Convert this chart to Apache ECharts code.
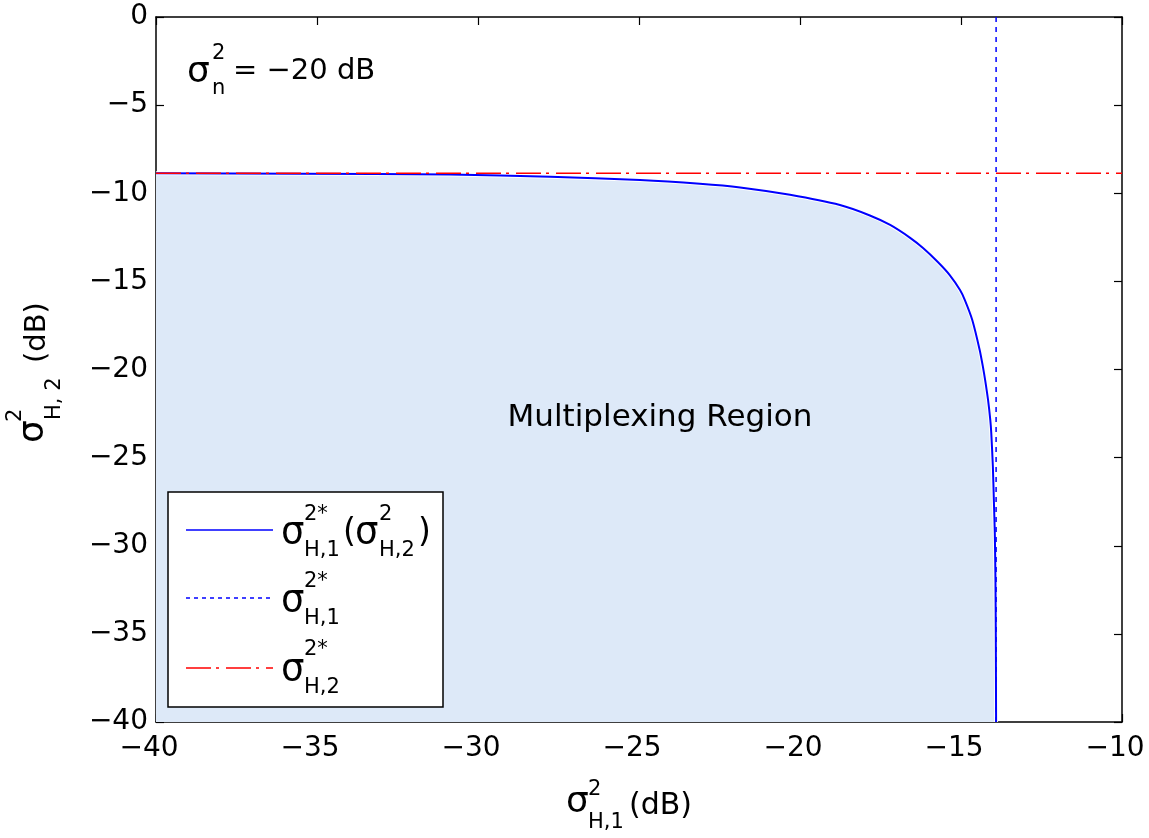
<!DOCTYPE html>
<html>
<head>
<meta charset="utf-8">
<script src="https://cdn.jsdelivr.net/npm/echarts@6/dist/echarts.min.js"></script>
<style>
html,body{margin:0;padding:0;background:#fff;}
#chart{width:1149px;height:838px;}
</style>
</head>
<body>
<div id="chart"></div>
<script>
// ---- data ----
const curveX = [-40, -35.53, -30.87, -27.76, -24.97, -23.11, -21.86, -20.31, -18.76, -17.83, -17.20, -16.58, -16.17, -15.72, -15.35, -15.03, -14.88, -14.65, -14.42, -14.32, -14.25, -14.16, -14.09, -14.06, -14.01, -13.98, -13.95, -13.93, -13.92, -13.91];
const curveY = [-8.87, -8.89, -8.94, -9.07, -9.25, -9.46, -9.67, -10.09, -10.67, -11.26, -11.80, -12.53, -13.12, -13.90, -14.64, -15.49, -16.06, -17.19, -18.89, -19.84, -20.60, -21.73, -22.87, -23.60, -25.52, -27.40, -29.28, -31.94, -34.95, -40];
const xStar = -13.91;   // sigma^2*_{H,1}
const yStar = -8.87;    // sigma^2*_{H,2}
const xTicks = [-40, -35, -30, -25, -20, -15, -10];
const yTicks = [0, -5, -10, -15, -20, -25, -30, -35, -40];

const FONT = "'DejaVu Sans', 'Liberation Sans', Arial, sans-serif";
const minus = v => String(v).replace('-', '\u2212');

const curve = curveX.map((x, i) => [x, curveY[i]]);
const vLine = [[xStar, yTicks[yTicks.length - 1]], [xStar, yTicks[0]]];
const hLine = [[xTicks[0], yStar], [xTicks[xTicks.length - 1], yStar]];

const chart = echarts.init(document.getElementById('chart'), null, {renderer: 'canvas'});

function txt(t, x, y, size, align, z) {
  return {
    type: 'text', z: z || 50,
    style: {text: t, x: x, y: y, font: size + 'px ' + FONT, fill: '#000',
            textAlign: align || 'left', textVerticalAlign: 'middle'}
  };
}
function ln(x1, y1, x2, y2, color, dash, w, z) {
  return {type: 'line', z: z || 50, shape: {x1, y1, x2, y2},
          style: {stroke: color, lineWidth: w || 1.5, lineDash: dash || null}};
}

const axisCommon = {
  min: -40, interval: 5,
  axisLine: {show: true, onZero: false, lineStyle: {color: '#000', width: 1.5}},
  axisTick: {show: true, inside: true, length: 8, lineStyle: {color: '#000', width: 1.2}},
  splitLine: {show: false}
};

const LZ = 110;
const option = {
  animation: false,
  backgroundColor: '#fff',
  grid: {left: 156, right: 27, top: 17, bottom: 116, containLabel: false},
  xAxis: [
    Object.assign({}, axisCommon, {type: 'value', max: -10, position: 'bottom',
      axisLabel: {show: true, margin: 13, color: '#000', fontSize: 28, fontFamily: FONT,
        padding: [0, 14, 0, 0], formatter: v => minus(v)}}),
    Object.assign({}, axisCommon, {type: 'value', max: -10, position: 'top',
      axisLabel: {show: false}})
  ],
  yAxis: [
    Object.assign({}, axisCommon, {type: 'value', max: 0, position: 'left',
      axisLabel: {show: true, margin: 8, color: '#000', fontSize: 28, fontFamily: FONT,
        formatter: v => minus(v)}}),
    Object.assign({}, axisCommon, {type: 'value', max: 0, position: 'right',
      axisLabel: {show: false}})
  ],
  series: [
    { // multiplexing region fill
      type: 'line', data: curve, showSymbol: false, silent: true,
      smooth: 0.2,
      lineStyle: {color: '#ffffff', width: 4},
      areaStyle: {color: '#dde9f8', origin: 'start', opacity: 1},
      z: 1
    },
    { // sigma^2*_{H,1}(sigma^2_{H,2})
      type: 'line', data: curve, showSymbol: false,
      smooth: 0.2,
      lineStyle: {color: '#0000ff', width: 2}, z: 3
    },
    { // sigma^2*_{H,1}
      type: 'line', data: vLine, showSymbol: false,
      lineStyle: {color: '#0000ff', width: 1.5, type: [5, 5]}, z: 4
    },
    { // sigma^2*_{H,2}
      type: 'line', data: hLine, showSymbol: false,
      lineStyle: {color: '#ff0000', width: 1.5, type: [25, 5, 3, 7]}, z: 5
    }
  ],
  graphic: [
    // Region label
    txt('Multiplexing Region', 660, 418, 31, 'center'),
    // noise annotation
    txt('\u03c3', 187, 73, 36, 'left'),
    txt('2', 212, 54, 21, 'left'),
    txt('n', 212, 89, 21, 'left'),
    txt('= \u221220 dB', 233, 71, 29, 'left'),
    // x axis name
    txt('\u03c3', 566, 803, 36, 'left'),
    txt('2', 588, 790, 21, 'left'),
    txt('H,1', 588, 823, 21, 'left'),
    txt('(dB)', 629, 806, 30, 'left'),
    // y axis name (rotated)
    {type: 'group', x: 34, y: 433, rotation: Math.PI / 2, children: [
      txt('\u03c3', -10, 0, 36, 'left'),
      txt('2', 11, -18, 21, 'left'),
      txt('H, 2', 13, 21, 21, 'left'),
      txt('(dB)', 70, 3, 29, 'left')
    ]},
    // legend
    {type: 'rect', z: LZ - 1, shape: {x: 168, y: 492, width: 275, height: 215},
     style: {fill: '#fff', stroke: '#000', lineWidth: 1.5}},
    ln(186, 530, 273, 530, '#0000ff', null, 1.5, LZ),
    ln(186, 598, 273, 598, '#0000ff', [4, 4], 1.5, LZ),
    ln(186, 668, 273, 668, '#ff0000', [25, 5, 3, 7], 1.5, LZ),
    txt('\u03c3', 281, 533, 37, 'left', LZ),
    txt('2*', 304, 515, 21, 'left', LZ),
    txt('H,1', 304, 551, 21, 'left', LZ),
    txt('(', 343, 533, 33, 'left', LZ),
    txt('\u03c3', 355, 533, 37, 'left', LZ),
    txt('2', 379, 515, 21, 'left', LZ),
    txt('H,2', 379, 551, 21, 'left', LZ),
    txt(')', 418, 533, 33, 'left', LZ),
    txt('\u03c3', 281, 601, 37, 'left', LZ),
    txt('2*', 304, 582, 21, 'left', LZ),
    txt('H,1', 304, 619, 21, 'left', LZ),
    txt('\u03c3', 281, 670, 37, 'left', LZ),
    txt('2*', 304, 650, 21, 'left', LZ),
    txt('H,2', 304, 688, 21, 'left', LZ)
  ]
};
chart.setOption(option);
</script>
</body>
</html>
